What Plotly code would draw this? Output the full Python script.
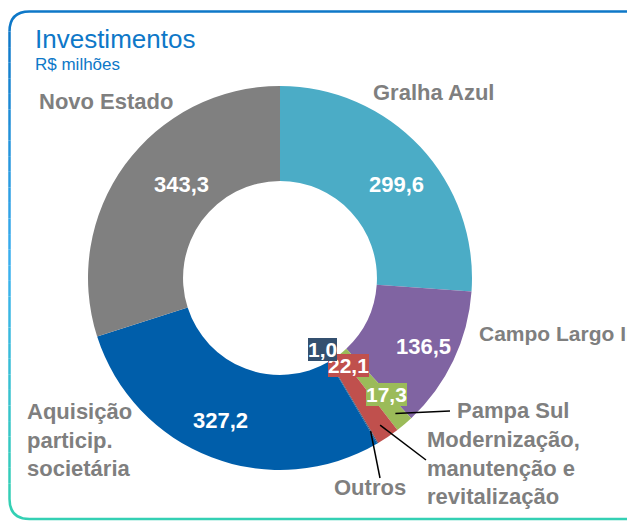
import math

import plotly.graph_objects as go

# Data
categories = [
    "Gralha Azul",
    "Campo Largo II",
    "Pampa Sul",
    "Modernização, manutenção e revitalização",
    "Outros",
    "Aquisição particip. societária",
    "Novo Estado",
]
values = [299.6, 136.5, 17.3, 22.1, 1.0, 327.2, 343.3]
value_labels = ["299,6", "136,5", "17,3", "22,1", "1,0", "327,2", "343,3"]
outer_labels = [
    "Gralha Azul",
    "Campo Largo II",
    "Pampa Sul",
    "Modernização,<br>manutenção e<br>revitalização",
    "Outros",
    "Aquisição<br>particip.<br>societária",
    "Novo Estado",
]

COLORS = ["#4BACC6", "#8064A2", "#9BBB59", "#C0504D", "#34506F", "#005EAA", "#808080"]
GRAY = "#7F7F7F"
FONT = "Arial, sans-serif"

# page body has an 8px margin, so the figure is drawn smaller and offset
OFF = 8
W, H = 635 - OFF, 522 - OFF
CX, CY, R = 280, 278, 192


def px(x):
    return (x - OFF) / W


def py(y):
    return 1 - (y - OFF) / H


fig = go.Figure(go.Pie(
    labels=categories,
    values=values,
    hole=0.505,
    sort=False,
    direction="clockwise",
    rotation=0,
    marker=dict(colors=COLORS, line=dict(width=0)),
    textinfo="none",
    hoverinfo="label+value",
    showlegend=False,
    domain=dict(x=[px(CX - R), px(CX + R)], y=[py(CY + R), py(CY - R)]),
))

# slice mid angles (degrees clockwise from 12 o'clock)
total = sum(values)
mids = []
acc = 0
for v in values:
    mids.append((acc + v / 2) / total * 360)
    acc += v


def polar(angle, r):
    a = math.radians(angle)
    return CX + r * math.sin(a), CY - r * math.cos(a)


annotations = []

# value labels inside big slices (radius in px from the centre)
inside_r = {0: 159, 1: 159, 5: 168, 6: 159}
for i, r in inside_r.items():
    x, y = polar(mids[i], r)
    annotations.append(dict(
        x=px(x), y=py(y), xref="paper", yref="paper", text="<b>" + value_labels[i] + "</b>",
        showarrow=False, font=dict(family=FONT, size=22, color="white"),
    ))

# boxed labels for small slices
small_pos = {2: (386, 406), 3: (348, 377), 4: (322.5, 349.5)}
for i, (x, y) in small_pos.items():
    annotations.append(dict(
        x=px(x), y=py(y), xref="paper", yref="paper", text="<b>" + value_labels[i] + "</b>",
        showarrow=False, font=dict(family=FONT, size=21, color="white"),
        bgcolor=COLORS[i], borderpad=0, borderwidth=0,
    ))

# category labels: (x, y, anchor, font size)
cat_pos = [
    (371, 93, "left", 22),
    (477, 333, "left", 21),
    (455, 410, "left", 22),
    (425, 468, "left", 22),
    (370, 487, "center", 22),
    (25, 440, "left", 22),
    (37, 101, "left", 22),
]
for text, (x, y, al, sz) in zip(outer_labels, cat_pos):
    annotations.append(dict(
        x=px(x), y=py(y), xref="paper", yref="paper", text="<b>" + text + "</b>",
        showarrow=False, xanchor=al, align="left", yanchor="middle",
        font=dict(family=FONT, size=sz, color=GRAY),
    ))

# title
annotations.append(dict(
    x=px(33), y=py(39), xref="paper", yref="paper", text="Investimentos",
    showarrow=False, xanchor="left", yanchor="middle",
    font=dict(family=FONT, size=26, color="#0E78C8"),
))
annotations.append(dict(
    x=px(33), y=py(64), xref="paper", yref="paper", text="R$ milhões",
    showarrow=False, xanchor="left", yanchor="middle",
    font=dict(family=FONT, size=17, color="#0E78C8"),
))

shapes = []

# leader lines
leaders = [(2, 450, 411), (3, 426, 460), (4, 380, 478)]
for i, x2, y2 in leaders:
    x1, y1 = polar(mids[i], 178)
    shapes.append(dict(
        type="line", xref="paper", yref="paper",
        x0=px(x1), y0=py(y1), x1=px(x2), y1=py(y2),
        line=dict(color="black", width=1.5),
    ))

# rounded frame with blue-to-teal gradient on the left side
TOP, LEFT, BOT, RIGHT, RAD = 11.5, 9.5, 519, 645, 20
shapes.append(dict(
    type="path", xref="paper", yref="paper",
    path=f"M {px(LEFT)},{py(TOP + RAD)} Q {px(LEFT)},{py(TOP)} {px(LEFT + RAD)},{py(TOP)} L {px(RIGHT)},{py(TOP)}",
    line=dict(color="#0E78C8", width=2.5),
))
top_rgb = (14, 120, 200)
mid_rgb = (59, 176, 240)
bot_rgb = (52, 208, 180)
n = 30
for k in range(n):
    t0 = k / n
    t1 = (k + 1) / n
    tm = (t0 + t1) / 2
    if tm < 0.5:
        a, b, f = top_rgb, mid_rgb, tm / 0.5
    else:
        a, b, f = mid_rgb, bot_rgb, (tm - 0.5) / 0.5
    c = tuple(int(a[j] + (b[j] - a[j]) * f) for j in range(3))
    ya = TOP + RAD + (BOT - TOP - 2 * RAD) * t0
    yb = TOP + RAD + (BOT - TOP - 2 * RAD) * t1
    shapes.append(dict(
        type="line", xref="paper", yref="paper",
        x0=px(LEFT), y0=py(ya), x1=px(LEFT), y1=py(yb),
        line=dict(color="rgb(%d,%d,%d)" % c, width=2.5),
    ))
shapes.append(dict(
    type="path", xref="paper", yref="paper",
    path=f"M {px(LEFT)},{py(BOT - RAD)} Q {px(LEFT)},{py(BOT)} {px(LEFT + RAD)},{py(BOT)} L {px(RIGHT)},{py(BOT)}",
    line=dict(color="rgb(52,208,180)", width=2.5),
))

fig.update_layout(
    width=W, height=H,
    margin=dict(l=0, r=0, t=0, b=0),
    paper_bgcolor="white",
    plot_bgcolor="white",
    font=dict(family=FONT),
    annotations=annotations,
    shapes=shapes,
)

fig.write_html("out.html")
